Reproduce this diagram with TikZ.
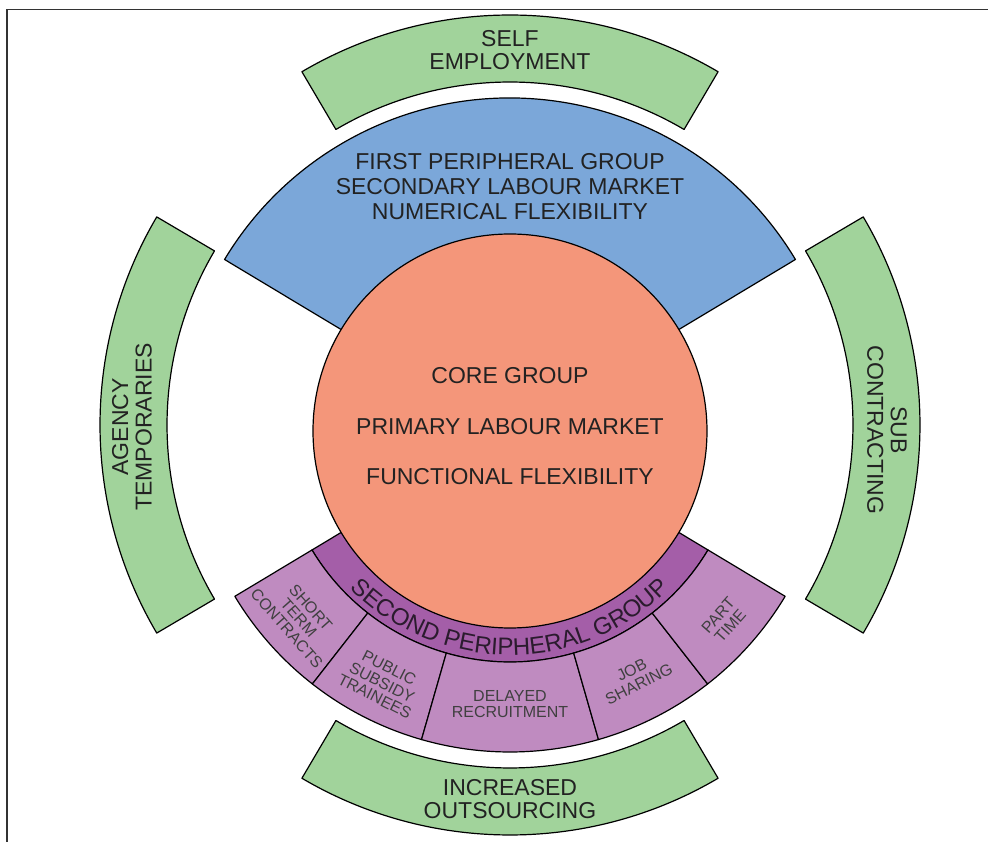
\documentclass[tikz,border=0pt]{standalone}
\usepackage{fontspec}
\setmainfont{Liberation Sans}
\usetikzlibrary{decorations.text}

\definecolor{ringgreen}{HTML}{A1D39B}
\definecolor{firstblue}{HTML}{7BA7D9}
\definecolor{coreorange}{HTML}{F4967A}
\definecolor{seconddark}{HTML}{A45EA8}
\definecolor{secondlight}{HTML}{BF8BC0}
\definecolor{labeltext}{HTML}{222222}
\definecolor{bandtext}{HTML}{2B1B2E}

\newcommand\bandfont{\fontsize{24}{24}\selectfont}

\begin{document}
\begin{tikzpicture}[
    x=1pt, y=1pt,
    outline/.style={draw=black, line width=1.2pt, line join=round},
    greenband/.style={outline, fill=ringgreen},
    bigtext/.style={text=labeltext, align=center, font=\fontsize{23}{23.5}\selectfont, inner sep=0pt},
    celltext/.style={text=black!75, align=center, font=\fontsize{16}{16}\selectfont, inner sep=0pt}
]
\useasboundingbox (-510,-411) rectangle (478,431);

% page frame
\draw[line width=1.5pt, black!80] (-503,-411) -- (-503,421.5) -- (478,421.5);

% outer green ring (centre a little higher)
\begin{scope}[shift={(0,6)}]
\foreach \a in {0,90,180,270}
  \filldraw[greenband] (\a-30.5:410) arc[start angle=\a-30.5, end angle=\a+30.5, radius=410]
      -- (\a+30.5:343) arc[start angle=\a+30.5, end angle=\a-30.5, radius=343] -- cycle;
\end{scope}

% first peripheral group
\filldraw[outline, fill=firstblue] (0,0) -- (31:333) arc[start angle=31, end angle=149, radius=333] -- cycle;

% second peripheral group
\filldraw[outline, fill=seconddark] (0,0) -- (211:231) arc[start angle=211, end angle=329, radius=231] -- cycle;
\foreach \s/\e in {211/232, 232/254, 254/286, 286/308, 308/329}
  \filldraw[outline, fill=secondlight] (\s:231) -- (\s:321) arc[start angle=\s, end angle=\e, radius=321]
      -- (\e:231) arc[start angle=\e, end angle=\s, radius=231] -- cycle;

% core group
\filldraw[outline, fill=coreorange] (0,0) circle[radius=197];

% core labels
\node[bigtext] (core) at (0,55) {CORE GROUP};
\node[bigtext] (primary) at (0,4) {PRIMARY LABOUR MARKET};
\node[bigtext] (functional) at (0,-46) {FUNCTIONAL FLEXIBILITY};

% first peripheral label
\node[bigtext, font=\fontsize{23}{25}\selectfont] (first) at (0,244)
    {FIRST PERIPHERAL GROUP\\SECONDARY LABOUR MARKET\\NUMERICAL FLEXIBILITY};

% green ring labels
\node[bigtext] (self) at (0,381) {SELF\\EMPLOYMENT};
\node[bigtext] (outsourcing) at (0,-368) {INCREASED\\OUTSOURCING};
\node[bigtext, rotate=90] (agency) at (-378,4) {AGENCY\\TEMPORARIES};
\node[bigtext, rotate=-90] (sub) at (377,1) {SUB\\CONTRACTING};

% second peripheral band text
\path[decorate, decoration={text along path, text align=center, text color=bandtext,
    text={|\bandfont|SECOND PERIPHERAL GROUP}}]
    (205:224) arc[start angle=205, end angle=335, radius=224];

% second peripheral cells
\node[celltext, rotate=-48.5] (shortterm) at (221.5:282) {SHORT\\TERM\\CONTRACTS};
\node[celltext, rotate=-27] (subsidy) at (243:282) {PUBLIC\\SUBSIDY\\TRAINEES};
\node[celltext] (delayed) at (270:273) {DELAYED\\RECRUITMENT};
\node[celltext, rotate=27] (jobsharing) at (297:276) {JOB\\SHARING};
\node[celltext, rotate=48.5] (parttime) at (318.5:286) {PART\\TIME};

\end{tikzpicture}
\end{document}
